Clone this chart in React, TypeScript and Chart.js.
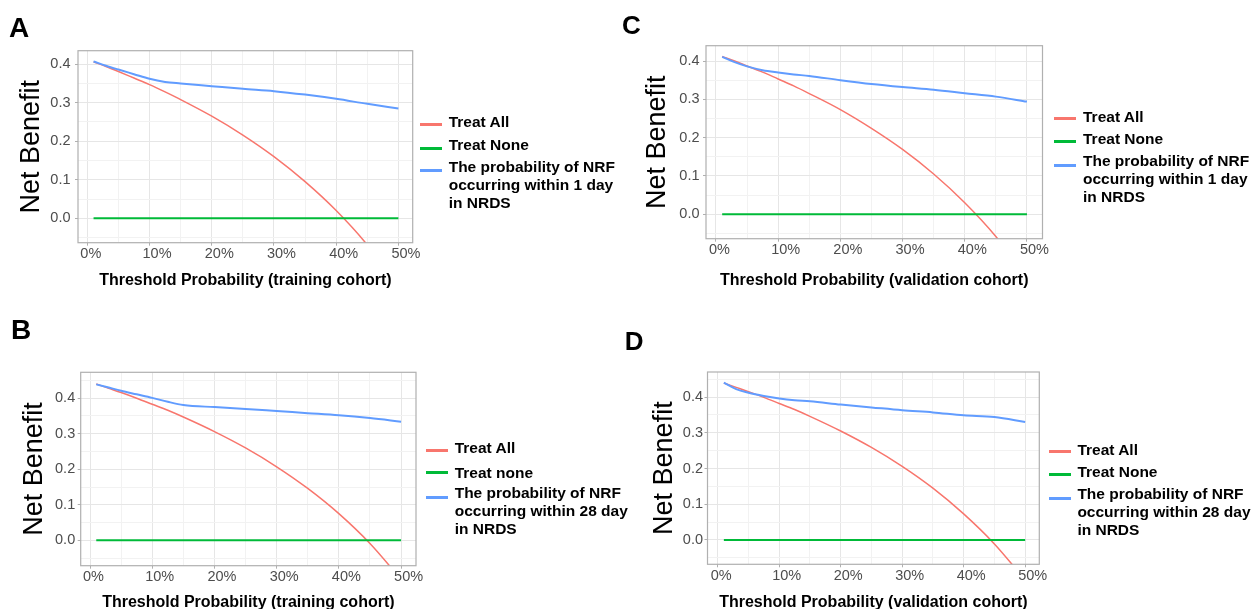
import React, { useEffect, useRef } from "react";
import { Chart, registerables } from "chart.js";

Chart.register(...registerables);

// ---------- DATA ----------
const thresholds = [0.01, 0.03, 0.05, 0.075, 0.1, 0.125, 0.15, 0.2, 0.25, 0.3, 0.35, 0.4, 0.45, 0.5];

const treatNoneValues = [0, 0, 0, 0, 0, 0, 0, 0, 0, 0, 0, 0, 0, 0];

// Panel A (training, 1 day)
const treatAllA = [0.406, 0.394, 0.381, 0.364, 0.347, 0.328, 0.308, 0.265, 0.216, 0.16, 0.095, 0.02, -0.069, -0.176];
const modelA = [0.407, 0.396, 0.386, 0.374, 0.362, 0.354, 0.35, 0.343, 0.336, 0.33, 0.321, 0.31, 0.297, 0.285];

// Panel B (training, 28 day)
const treatAllB = [0.44, 0.428, 0.416, 0.4, 0.383, 0.366, 0.347, 0.306, 0.26, 0.207, 0.146, 0.075, -0.009, -0.11];
const modelB = [0.439, 0.43, 0.421, 0.411, 0.401, 0.39, 0.381, 0.375, 0.37, 0.364, 0.358, 0.352, 0.344, 0.334];

// Panel C (validation, 1 day)
const treatAllC = [0.412, 0.4, 0.387, 0.371, 0.353, 0.335, 0.315, 0.273, 0.224, 0.169, 0.105, 0.03, -0.058, -0.164];
const modelC = [0.411, 0.397, 0.386, 0.376, 0.37, 0.365, 0.361, 0.35, 0.34, 0.332, 0.325, 0.316, 0.307, 0.294];

// Panel D (validation, 28 day)
const treatAllD = [0.439, 0.427, 0.415, 0.399, 0.382, 0.365, 0.346, 0.305, 0.259, 0.206, 0.145, 0.073, -0.011, -0.112];
const modelD = [0.44, 0.422, 0.412, 0.403, 0.396, 0.391, 0.388, 0.379, 0.371, 0.363, 0.357, 0.349, 0.344, 0.33];

const xTickValues = [0, 0.1, 0.2, 0.3, 0.4, 0.5];
const xTickLabels = ["0%", "10%", "20%", "30%", "40%", "50%"];
const yTickValues = [0, 0.1, 0.2, 0.3, 0.4];
const yTickLabels = ["0.0", "0.1", "0.2", "0.3", "0.4"];

const yTitle = "Net Benefit";
const xTitleTraining = "Threshold Probability (training cohort)";
const xTitleValidation = "Threshold Probability (validation cohort)";

const legend1Day = ["Treat All", "Treat None", "The probability of NRF\noccurring within 1 day\nin NRDS"];
const legendB28 = ["Treat All", "Treat none", "The probability of NRF\noccurring within 28 day\nin NRDS"];
const legendD28 = ["Treat All", "Treat None", "The probability of NRF\noccurring within 28 day\nin NRDS"];

// ---------- STYLE ----------
const FONT = '"Liberation Sans", Arial, Helvetica, sans-serif';
const RED = "#F8766D";
const GREEN = "#00BA38";
const BLUE = "#619CFF";
const Y_TITLE_SIZE = 27;
const Y_TITLE_LH = Y_TITLE_SIZE * 1.2;
const X_TITLE_SIZE = 16;
const X_TITLE_LH = X_TITLE_SIZE * 1.2;

const isMajor = (v: number) => Math.abs(Math.round(v * 100) % 10) === 0;
const labelFor = (v: number, vals: number[], labels: string[]) => {
  const i = vals.findIndex((t) => Math.abs(t - v) < 1e-6);
  return i >= 0 ? labels[i] : "";
};

const borderPlugin = {
  id: "panelBorder",
  afterDatasetsDraw(chart: any) {
    const { ctx, chartArea: a } = chart;
    ctx.save();
    ctx.strokeStyle = "#b0b0b0";
    ctx.lineWidth = 1.2;
    ctx.strokeRect(a.left, a.top, a.right - a.left, a.bottom - a.top);
    ctx.restore();
  },
};

type PanelDef = {
  x0: number; x1: number; y0: number; y1: number;
  yTitleCx: number; xTitleCy: number;
  xMin: number; xMax: number; yMin: number; yMax: number;
  yTickPad: number;
  xTitle: string;
  all: number[]; model: number[];
};

const toXY = (xs: number[], ys: number[]) => xs.map((x, i) => ({ x, y: ys[i] }));

function Panel({ p }: { p: PanelDef }) {
  const ref = useRef<HTMLCanvasElement>(null);
  const L = Math.round(p.yTitleCx - 22);
  const T = Math.round(p.y0 - 20);
  const R = Math.round(p.x1 + 24);
  const xScaleBottom = p.xTitleCy + X_TITLE_LH / 2;
  const B = Math.round(xScaleBottom + 3);
  const W = R - L;
  const H = B - T;

  useEffect(() => {
    const tickFont = { family: FONT, size: 14.5 };
    const gridColor = (c: any) => (c.tick && isMajor(c.tick.value) ? "#e6e6e6" : "#f2f2f2");
    const tickColor = (c: any) => (c.tick && isMajor(c.tick.value) ? "#b0b0b0" : "rgba(0,0,0,0)");
    const chart = new Chart(ref.current as HTMLCanvasElement, {
      type: "line",
      data: {
        datasets: [
          { label: "model", data: toXY(thresholds, p.model), borderColor: BLUE, borderWidth: 2, order: 1 },
          { label: "Treat None", data: toXY(thresholds, treatNoneValues), borderColor: GREEN, borderWidth: 2, order: 2 },
          { label: "Treat All", data: toXY(thresholds, p.all), borderColor: RED, borderWidth: 1.5, order: 3 },
        ] as any,
      },
      options: {
        responsive: false,
        animation: false,
        devicePixelRatio: 1,
        events: [],
        elements: { point: { radius: 0 }, line: { cubicInterpolationMode: "monotone" } },
        layout: {
          padding: {
            left: p.yTitleCx - Y_TITLE_LH / 2 - L,
            top: p.y0 - T,
            right: R - p.x1,
            bottom: B - xScaleBottom,
          },
        },
        plugins: { legend: { display: false }, tooltip: { enabled: false } },
        scales: {
          x: {
            type: "linear",
            min: p.xMin,
            max: p.xMax,
            afterFit: (s: any) => { s.height = xScaleBottom - p.y1; },
            border: { display: false },
            grid: { color: gridColor, lineWidth: 1, drawTicks: true, tickLength: 3, tickColor },
            ticks: {
              stepSize: 0.05,
              includeBounds: false,
              autoSkip: false,
              maxRotation: 0,
              minRotation: 0,
              align: "start",
              labelOffset: -7,
              padding: 0,
              color: "#4d4d4d",
              font: tickFont,
              callback: (v: any) => labelFor(Number(v), xTickValues, xTickLabels),
            },
            title: {
              display: true,
              text: p.xTitle,
              color: "#000",
              font: { family: FONT, size: X_TITLE_SIZE, weight: "bold" },
              padding: 0,
            },
          },
          y: {
            type: "linear",
            min: p.yMin,
            max: p.yMax,
            afterFit: (s: any) => { s.width = p.x0 - p.yTitleCx + Y_TITLE_LH / 2; },
            border: { display: false },
            grid: { color: gridColor, lineWidth: 1, drawTicks: true, tickLength: 3, tickColor },
            ticks: {
              stepSize: 0.05,
              includeBounds: false,
              autoSkip: false,
              padding: p.yTickPad,
              color: "#4d4d4d",
              font: tickFont,
              callback: (v: any) => labelFor(Number(v), yTickValues, yTickLabels),
            },
            title: {
              display: true,
              text: yTitle,
              color: "#000",
              font: { family: FONT, size: Y_TITLE_SIZE, weight: "normal" },
              padding: 0,
            },
          },
        },
      } as any,
      plugins: [borderPlugin],
    });
    return () => chart.destroy();
  }, []);

  return (
    <canvas
      ref={ref}
      width={W}
      height={H}
      style={{ position: "absolute", left: L, top: T, width: W, height: H }}
    />
  );
}

type LegendDef = { sampleX: number; textX: number; textCy: number[]; sampleCy: number[]; labels: string[] };

function Legend({ d }: { d: LegendDef }) {
  const colors = [RED, GREEN, BLUE];
  return (
    <>
      {d.labels.map((lab, i) => (
        <React.Fragment key={i}>
          <div
            style={{
              position: "absolute",
              left: d.sampleX,
              top: d.sampleCy[i] - 1.5,
              width: 22,
              height: 3,
              background: colors[i],
            }}
          />
          <div
            style={{
              position: "absolute",
              left: d.textX,
              top: d.textCy[i] - 9,
              fontFamily: FONT,
              fontWeight: "bold",
              fontSize: 15.5,
              lineHeight: "18px",
              color: "#000",
              whiteSpace: "pre",
            }}
          >
            {lab}
          </div>
        </React.Fragment>
      ))}
    </>
  );
}

const panels: PanelDef[] = [
  { x0: 78, x1: 412.7, y0: 50.7, y1: 242.7, yTitleCx: 32, xTitleCy: 281, xMin: -0.015, xMax: 0.523, yMin: -0.0634, yMax: 0.435, yTickPad: 4.5, xTitle: xTitleTraining, all: treatAllA, model: modelA },
  { x0: 80.7, x1: 416, y0: 372.3, y1: 565.7, yTitleCx: 34.5, xTitleCy: 603, xMin: -0.015, xMax: 0.524, yMin: -0.0715, yMax: 0.473, yTickPad: 2.5, xTitle: xTitleTraining, all: treatAllB, model: modelB },
  { x0: 706, x1: 1042.5, y0: 45.7, y1: 238.7, yTitleCx: 658, xTitleCy: 281, xMin: -0.016, xMax: 0.525, yMin: -0.064, yMax: 0.44, yTickPad: 3.5, xTitle: xTitleValidation, all: treatAllC, model: modelC },
  { x0: 707.5, x1: 1039.3, y0: 372, y1: 564.3, yTitleCx: 665, xTitleCy: 602.5, xMin: -0.0166, xMax: 0.523, yMin: -0.068, yMax: 0.47, yTickPad: 1.5, xTitle: xTitleValidation, all: treatAllD, model: modelD },
];

const legends: LegendDef[] = [
  { sampleX: 420, textX: 448.7, textCy: [121.7, 144.7, 167], sampleCy: [124, 148.3, 170.7], labels: legend1Day },
  { sampleX: 426, textX: 454.7, textCy: [448.3, 472.5, 492.5], sampleCy: [450, 472.7, 497.7], labels: legendB28 },
  { sampleX: 1054, textX: 1083, textCy: [116.7, 139.2, 161.2], sampleCy: [118.3, 141.7, 165.7], labels: legend1Day },
  { sampleX: 1049.3, textX: 1077.4, textCy: [449.8, 472.2, 494.2], sampleCy: [451, 474.3, 498.3], labels: legendD28 },
];

const panelLetters = [
  { text: "A", left: 9, top: 13.6, size: 28 },
  { text: "B", left: 11, top: 315.6, size: 28 },
  { text: "C", left: 621.9, top: 11.9, size: 26 },
  { text: "D", left: 624.7, top: 328.3, size: 26 },
];

export default function App() {
  return (
    <div
      style={{
        position: "absolute",
        left: 0,
        top: 0,
        width: 1253,
        height: 609,
        overflow: "hidden",
        background: "#fff",
        fontFamily: FONT,
      }}
    >
      {panels.map((p, i) => (
        <Panel key={i} p={p} />
      ))}
      {legends.map((d, i) => (
        <Legend key={i} d={d} />
      ))}
      {panelLetters.map((l, i) => (
        <div
          key={i}
          style={{
            position: "absolute",
            left: l.left,
            top: l.top,
            fontFamily: FONT,
            fontWeight: "bold",
            fontSize: l.size,
            lineHeight: `${l.size}px`,
            color: "#000",
          }}
        >
          {l.text}
        </div>
      ))}
    </div>
  );
}
